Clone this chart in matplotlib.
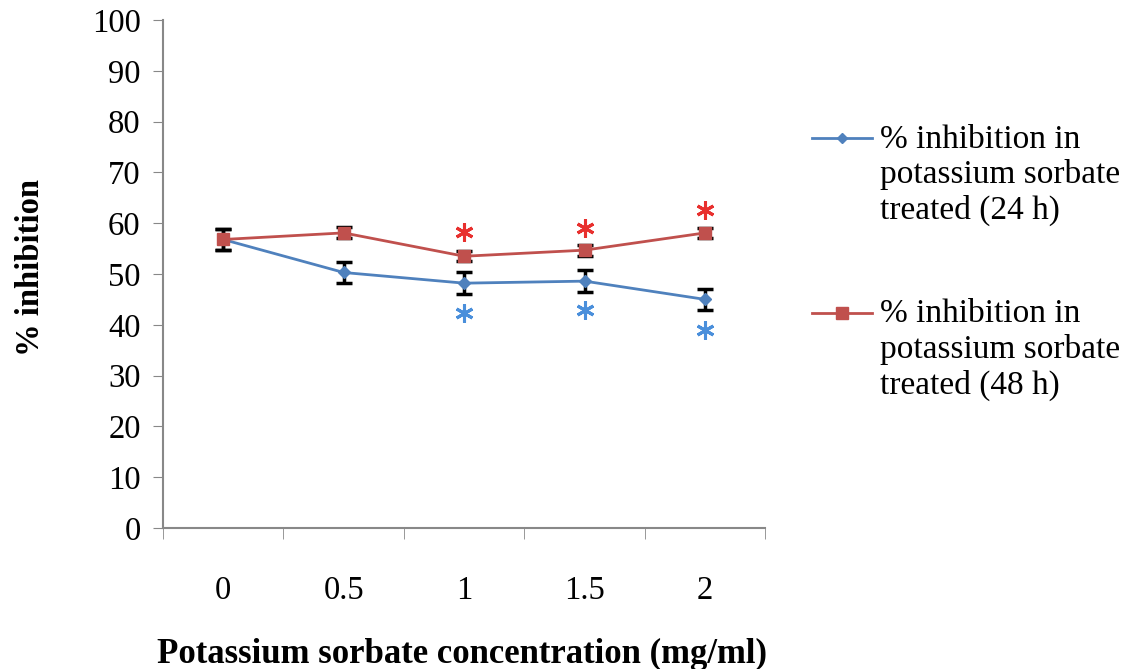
import matplotlib.pyplot as plt
import numpy as np
from matplotlib.lines import Line2D

plt.rcParams['font.family'] = ['Liberation Serif', 'DejaVu Serif']

conc = ['0', '0.5', '1', '1.5', '2']
inh_24h = [56.8, 50.3, 48.2, 48.6, 45.0]
err_24h = [2.0, 2.0, 2.2, 2.2, 2.1]
inh_48h = [56.8, 58.1, 53.5, 54.7, 58.1]
err_48h = [2.0, 1.1, 1.0, 1.1, 1.0]
# significance stars (position in % units)
star_24h = [np.nan, np.nan, 42.3, 43.0, 39.0]
star_48h = [np.nan, np.nan, 58.3, 59.0, 62.7]

label_24 = '% inhibition in\npotassium sorbate\ntreated (24 h)'
label_48 = '% inhibition in\npotassium sorbate\ntreated (48 h)'

blue = '#4F81BD'
red = '#C0504D'

fig = plt.figure(figsize=(11.27, 6.69), dpi=100)
ax = fig.add_axes([0.1446, 0.2108, 0.5345, 0.7592])

x = np.arange(len(conc))

ax.errorbar(x, inh_24h, yerr=err_24h, fmt='none', ecolor='black',
            elinewidth=2.5, capsize=6, capthick=2.5, zorder=2)
ax.errorbar(x, inh_48h, yerr=err_48h, fmt='none', ecolor='black',
            elinewidth=2.5, capsize=6, capthick=2.5, zorder=2)
ax.plot(x, inh_24h, color=blue, lw=2, marker='D', ms=6, zorder=3)
ax.plot(x, inh_48h, color=red, lw=2, marker='s', ms=8, zorder=3)

ax.plot(x, star_24h, ls='none', marker=(6, 2, 0), ms=13, mew=2.2,
        color='#4A8FDB', zorder=4)
ax.plot(x, star_48h, ls='none', marker=(6, 2, 0), ms=13, mew=2.2,
        color='#E8302E', zorder=4)

ax.set_xlim(-0.5, len(conc) - 0.5)
ax.set_ylim(0, 100)
ax.set_yticks(np.arange(0, 101, 10))
ax.set_xticks(x)
ax.set_xticklabels(conc)
ax.set_xticks(np.arange(-0.5, len(conc), 1), minor=True)
ax.tick_params(axis='x', which='major', length=0, pad=34, labelsize=23.5)
ax.tick_params(axis='x', which='minor', length=8, direction='out', color='#888888')
ax.tick_params(axis='y', length=7, direction='out', color='#888888', labelsize=23.5, pad=9)

for s in ['top', 'right']:
    ax.spines[s].set_visible(False)
for s in ['left', 'bottom']:
    ax.spines[s].set_color('#888888')
    ax.spines[s].set_linewidth(1.5)

fig.text(0.027, 0.6, '% inhibition', rotation=90, ha='center', va='center',
         fontsize=23.5, fontweight='bold')
fig.text(0.41, 0.022, 'Potassium sorbate concentration (mg/ml)', ha='center',
         va='center', fontsize=25, fontweight='bold')

# legend, Excel-style (key aligned with first line)
for y_px, col, mk, ms, lab in [(138, blue, 'D', 5, label_24), (313, red, 's', 8, label_48)]:
    yf = 1 - y_px / 669
    fig.add_artist(Line2D([812 / 1127, 872 / 1127], [yf, yf], color=col, lw=2,
                          transform=fig.transFigure))
    fig.add_artist(Line2D([842 / 1127], [yf], color=col, marker=mk, ms=ms,
                          transform=fig.transFigure))
    fig.text(880 / 1127, 1 - (y_px - 14) / 669, lab, ha='left', va='top',
             fontsize=24, linespacing=1.2)

fig.savefig('out.png', dpi=100)
